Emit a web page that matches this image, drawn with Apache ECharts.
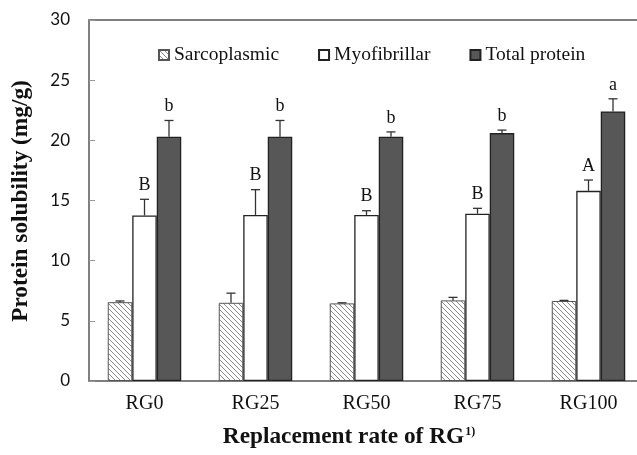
<!DOCTYPE html>
<html><head><meta charset="utf-8">
<script src="https://cdn.jsdelivr.net/npm/echarts@6/dist/echarts.min.js"></script>
<style>html,body{margin:0;padding:0;background:#fff}#c{width:637px;height:455px}</style>
</head><body><div id="c"></div>
<script>
var categories = ['RG0', 'RG25', 'RG50', 'RG75', 'RG100'];
var sarcoplasmic = [6.55, 6.5, 6.45, 6.7, 6.65];
var sarcoplasmicErr = [0.1, 0.8, 0.05, 0.25, 0.05];
var myofibrillar = [13.75, 13.8, 13.8, 13.9, 15.8];
var myofibrillarErr = [1.35, 2.1, 0.35, 0.45, 0.9];
var totalProtein = [20.3, 20.3, 20.3, 20.6, 22.4];
var totalProteinErr = [1.35, 1.35, 0.4, 0.25, 1.05];
var myoLetters = ['B', 'B', 'B', 'B', 'A'];
var totalLetters = ['b', 'b', 'b', 'b', 'a'];
var yTicks = [0, 5, 10, 15, 20, 25, 30];

var BW = 24.5;
var serif = '"Liberation Serif","Times New Roman",serif';

function hatch() {
  var s = 5, c = document.createElement('canvas');
  c.width = s; c.height = s;
  var g = c.getContext('2d');
  g.fillStyle = '#fff'; g.fillRect(0, 0, s, s);
  g.strokeStyle = '#8a8a8a'; g.lineWidth = 1;
  g.beginPath();
  g.moveTo(-1, -1); g.lineTo(s + 1, s + 1);
  g.moveTo(-1, s - 1); g.lineTo(1, s + 1);
  g.moveTo(s - 1, -1); g.lineTo(s + 1, 1);
  g.stroke();
  return c;
}
var hatchPattern = { image: hatch(), repeat: 'repeat' };

function errSeries(vals, errs, offset, letters) {
  var data = vals.map(function (v, i) { return [i, v, v + errs[i]]; });
  return {
    type: 'custom', z: 5, silent: true,
    data: data,
    renderItem: function (params, api) {
      var i = api.value(0);
      var p0 = api.coord([i, api.value(1)]);
      var p1 = api.coord([i, api.value(2)]);
      var x = p0[0] + offset;
      var children = [
        { type: 'line', shape: { x1: x, y1: p0[1], x2: x, y2: p1[1] }, style: { stroke: '#333', lineWidth: 1.3 } },
        { type: 'line', shape: { x1: x - 4.5, y1: p1[1], x2: x + 4.5, y2: p1[1] }, style: { stroke: '#333', lineWidth: 1.3 } }
      ];
      if (letters) {
        children.push({ type: 'text', style: { text: letters[i], x: x, y: p1[1] - 5, textAlign: 'center', textVerticalAlign: 'bottom', font: '18px ' + serif, fill: '#111' } });
      }
      return { type: 'group', children: children };
    }
  };
}

var chart = echarts.init(document.getElementById('c'));
chart.setOption({
  animation: false,
  grid: { left: 89, top: 20, width: 555, height: 361, outerBoundsMode: 'none', containLabel: false,
    show: true, borderColor: '#555', borderWidth: 1.5, backgroundColor: 'transparent' },
  legend: {
    top: 45, left: 158, padding: 0, itemWidth: 10, itemHeight: 10, itemGap: 39, icon: 'rect',
    textStyle: { fontFamily: serif, fontSize: 19.5, color: '#111' },
    data: ['Sarcoplasmic', 'Myofibrillar', 'Total protein']
  },
  xAxis: {
    type: 'category', data: categories,
    axisLine: { lineStyle: { color: '#808080', width: 1.5 } },
    axisTick: { inside: true, length: 6, lineStyle: { color: '#999' } },
    axisLabel: { margin: 13, fontFamily: serif, fontSize: 20, color: '#111' }
  },
  yAxis: {
    type: 'value', min: 0, max: 30, interval: 5,
    splitLine: { show: false },
    axisLine: { show: true, lineStyle: { color: '#808080', width: 1.5 } },
    axisTick: { show: true, inside: true, length: 6, lineStyle: { color: '#999' } },
    axisLabel: { margin: 19, fontFamily: 'Lato, "Open Sans", sans-serif', fontSize: 17, color: '#111',
      formatter: function (v) { return yTicks.indexOf(v) >= 0 ? String(v) : ''; } }
  },
  graphic: [
    { type: 'text', rotation: Math.PI / 2, x: 21, y: 201,
      style: { text: 'Protein solubility (mg/g)', font: 'bold 23.3px ' + serif, fill: '#111', textAlign: 'center', textVerticalAlign: 'middle' } },
    { type: 'text', x: 349, y: 437,
      style: { text: '{a|Replacement rate of RG}{s|1)}', textAlign: 'center', textVerticalAlign: 'middle',
        rich: { a: { font: 'bold 23.3px ' + serif, fill: '#111' }, s: { font: 'bold 12px ' + serif, fill: '#111', verticalAlign: 'top', padding: [0, 0, 6, 1] } } } }
  ],
  series: [
    { name: 'Sarcoplasmic', type: 'bar', barWidth: BW, barGap: '0%', data: sarcoplasmic,
      itemStyle: { color: hatchPattern, borderColor: '#555', borderWidth: 1 } },
    { name: 'Myofibrillar', type: 'bar', barWidth: BW, barGap: '0%', data: myofibrillar,
      itemStyle: { color: '#fff', borderColor: '#222', borderWidth: 1.3 } },
    { name: 'Total protein', type: 'bar', barWidth: BW, barGap: '0%', data: totalProtein,
      itemStyle: { color: '#575757', borderColor: '#222', borderWidth: 1.3 } },
    errSeries(sarcoplasmic, sarcoplasmicErr, -BW, null),
    errSeries(myofibrillar, myofibrillarErr, 0, myoLetters),
    errSeries(totalProtein, totalProteinErr, BW, totalLetters)
  ]
});
</script></body></html>
